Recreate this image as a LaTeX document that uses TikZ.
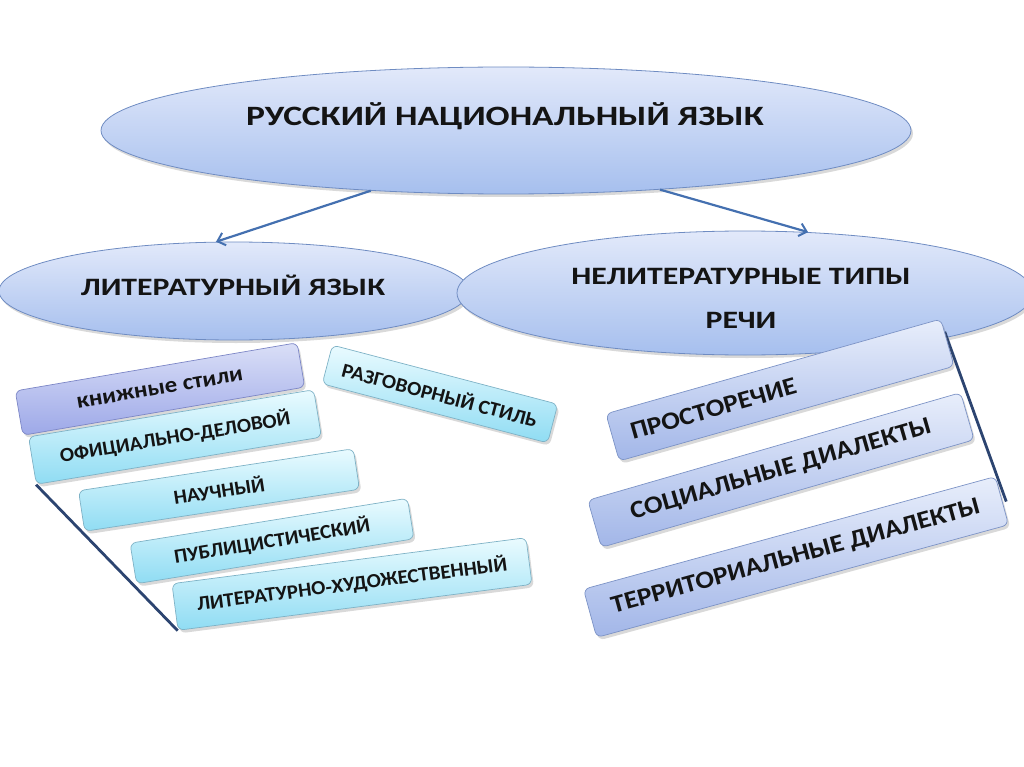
\documentclass[tikz,border=0pt]{standalone}
\usepackage{fontspec}
\setmainfont{Carlito}[FakeStretch=1.27]
\newfontfamily\boxfontA{Carlito}[FakeStretch=1.05]
\newfontfamily\boxfontB{Carlito}[FakeStretch=1.11]
\usetikzlibrary{shapes.geometric,shadows,backgrounds,arrows.meta,calc}
\definecolor{elltop}{HTML}{E2E9FA}
\definecolor{ellbot}{HTML}{A6BFEE}
\definecolor{ellline}{HTML}{6F8CC2}
\definecolor{booktop}{HTML}{DADFF7}
\definecolor{bookbot}{HTML}{9DA8E8}
\definecolor{bookline}{HTML}{7C86C6}
\definecolor{cyantop}{HTML}{EAFBFF}
\definecolor{cyanbot}{HTML}{8FDCF3}
\definecolor{cyanline}{HTML}{7EB2C6}
\definecolor{rtop}{HTML}{E8EEFB}
\definecolor{rbot}{HTML}{A2B6E8}
\definecolor{rline}{HTML}{7C93C6}
\definecolor{arrcol}{HTML}{4470B0}
\definecolor{conncol}{HTML}{2C4470}
\definecolor{txtcol}{HTML}{141414}
\begin{document}
\begin{tikzpicture}[x=1pt,y=-1pt,
  shad/.style={drop shadow={shadow xshift=2pt,shadow yshift=-3pt,opacity=0.25,fill=black!60}},
  ell/.style={ellipse,draw=ellline,line width=0.8pt,top color=elltop,bottom color=ellbot,inner sep=0pt,shad},
  box/.style={rounded corners=6pt,line width=0.7pt,inner sep=0pt,text=txtcol,font=\boxfontA\bfseries\fontsize{20}{22}\selectfont,shad},
  bookbox/.style={box,draw=bookline,top color=booktop,bottom color=bookbot},
  cyanbox/.style={box,draw=cyanline,top color=cyantop,bottom color=cyanbot},
  rbox/.style={box,draw=rline,top color=rtop,bottom color=rbot,font=\boxfontB\bfseries\fontsize{24.8}{27}\selectfont},
  ttl/.style={text=txtcol,font=\bfseries\fontsize{28}{30}\selectfont,inner sep=0pt},
  sub/.style={text=txtcol,font=\bfseries\fontsize{25}{44}\selectfont,inner sep=0pt,align=center},
  arr/.style={draw=arrcol,line width=2.2pt,-{Straight Barb[length=7pt,width=13pt,line width=2pt]}},
  conn/.style={draw=conncol,line width=2.8pt}
]
\useasboundingbox (0,0) rectangle (1024,767);

\begin{scope}[on background layer]
  \node[ell,minimum width=810pt,minimum height=127pt] (nat) at (506,130.5) {};
  \node[ell,minimum width=470pt,minimum height=98pt] (lit) at (234,291) {};
  \node[ell,minimum width=576pt,minimum height=124pt] (nonlit) at (745,293) {};
  \draw[arr] (nat.204) -- (lit.110);
  \draw[arr] (nat.339) -- (nonlit.44);
\end{scope}

\node[ttl] (natT) at (505,116) {РУССКИЙ НАЦИОНАЛЬНЫЙ ЯЗЫК};
\node[sub] (litT) at (233,285) {ЛИТЕРАТУРНЫЙ ЯЗЫК};
\node[sub] (nonlitT) at (741,298) {НЕЛИТЕРАТУРНЫЕ ТИПЫ\\РЕЧИ};

% left branch
\node[bookbox,minimum width=286pt,minimum height=45pt,rotate=9.7,font=\boxfontB\bfseries\fontsize{22.4}{24}\selectfont] (kn) at (160,389) {книжные стили};
\node[cyanbox,minimum width=289pt,minimum height=48pt,rotate=9.4] (off) at (175,437) {ОФИЦИАЛЬНО-ДЕЛОВОЙ};
\node[cyanbox,minimum width=278pt,minimum height=41pt,rotate=8.7] (nau) at (219,490) {НАУЧНЫЙ};
\node[cyanbox,minimum width=281pt,minimum height=41pt,rotate=9.2] (pub) at (272,541) {ПУБЛИЦИСТИЧЕСКИЙ};
\node[cyanbox,minimum width=357pt,minimum height=47pt,rotate=7.4] (art) at (352,584) {ЛИТЕРАТУРНО-ХУДОЖЕСТВЕННЫЙ};
\node[cyanbox,minimum width=233pt,minimum height=40pt,rotate=-14.7] (raz) at (440,394) {РАЗГОВОРНЫЙ СТИЛЬ};

% right branch
\node[rbox,minimum width=348pt,minimum height=49pt,rotate=15.8,text width=310pt,align=left,inner xsep=19pt] (pros) at (780,390) {ПРОСТОРЕЧИЕ};
\node[rbox,minimum width=388pt,minimum height=49pt,rotate=16.1] (soc) at (781,470) {СОЦИАЛЬНЫЕ ДИАЛЕКТЫ};
\node[rbox,minimum width=427pt,minimum height=50pt,rotate=15.3] (ter) at (796,557) {ТЕРРИТОРИАЛЬНЫЕ ДИАЛЕКТЫ};

\begin{scope}[on background layer]
  \draw[conn] (off.south west) -- (art.south west);
  \draw[conn] ($(pros.east)!0.45!(pros.north east)$) -- ($(ter.east)+(4,1)$);
\end{scope}
\end{tikzpicture}
\end{document}
